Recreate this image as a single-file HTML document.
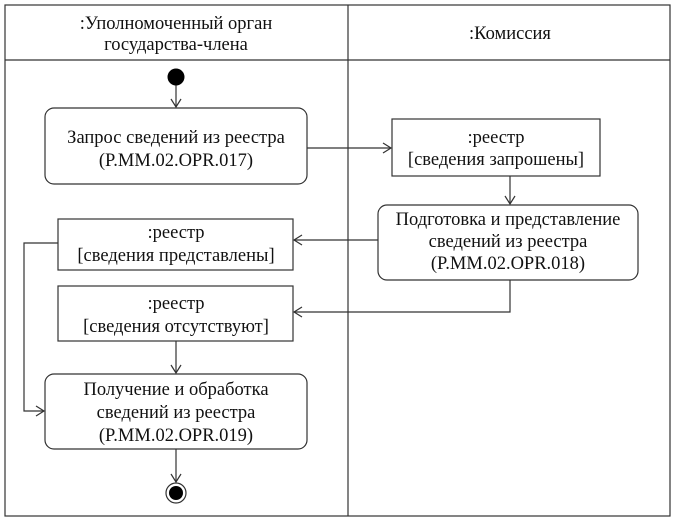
<!DOCTYPE html>
<html><head><meta charset="utf-8"><style>
html,body{margin:0;padding:0;background:#fff;width:675px;height:522px;overflow:hidden}
.t text{font-family:"Liberation Serif","Times New Roman","DejaVu Serif",serif;font-size:18.5px;fill:#111;text-anchor:middle}
</style></head><body>
<svg width="675" height="522" viewBox="0 0 675 522" xmlns="http://www.w3.org/2000/svg">
<g fill="none" stroke="#333" stroke-width="1.2">
<rect x="5" y="5" width="665" height="511"/>
<line x1="5" y1="60" x2="670" y2="60"/>
<line x1="348" y1="5" x2="348" y2="516"/>
<rect x="45" y="108" width="262" height="76" rx="9"/>
<rect x="392" y="119" width="208" height="57"/>
<rect x="378" y="205" width="260" height="75" rx="9"/>
<rect x="58" y="219" width="235" height="51"/>
<rect x="58" y="286" width="235" height="55"/>
<rect x="45" y="374" width="262" height="75" rx="9"/>
<line x1="176" y1="85" x2="176" y2="107"/><polyline points="171,99 176,107 181,99"/>
<line x1="307" y1="148" x2="391" y2="148"/><polyline points="383,143 391,148 383,153"/>
<line x1="510" y1="176" x2="510" y2="204"/><polyline points="505,196 510,204 515,196"/>
<line x1="378" y1="240" x2="294" y2="240"/><polyline points="302,235 294,240 302,245"/>
<polyline points="510,280 510,312 294,312"/><polyline points="302,307 294,312 302,317"/>
<line x1="176" y1="341" x2="176" y2="373"/><polyline points="171,365 176,373 181,365"/>
<polyline points="58,243 24,243 24,411 44,411"/><polyline points="36,406 44,411 36,416"/>
<line x1="176" y1="449" x2="176" y2="482"/><polyline points="171,474 176,482 181,474"/>
<circle cx="176" cy="493" r="10"/>
</g>
<circle cx="176" cy="77" r="8.5" fill="#000"/>
<circle cx="176" cy="493" r="7" fill="#000"/>
<g class="t" font-family="Liberation Serif, Times New Roman, serif" font-size="18.5">
<text x="176" y="29">:Уполномоченный орган</text>
<text x="176" y="50">государства-члена</text>
<text x="510" y="39">:Комиссия</text>
<text x="176" y="143">Запрос сведений из реестра</text>
<text x="176" y="166">(P.MM.02.OPR.017)</text>
<text x="496" y="143">:реестр</text>
<text x="496" y="165">[сведения запрошены]</text>
<text x="508" y="225">Подготовка и представление</text>
<text x="508" y="247">сведений из реестра</text>
<text x="508" y="269">(P.MM.02.OPR.018)</text>
<text x="176" y="238">:реестр</text>
<text x="176" y="261">[сведения представлены]</text>
<text x="176" y="309">:реестр</text>
<text x="176" y="332">[сведения отсутствуют]</text>
<text x="176" y="395">Получение и обработка</text>
<text x="176" y="418">сведений из реестра</text>
<text x="176" y="441">(P.MM.02.OPR.019)</text>
</g>
</svg>
</body></html>
